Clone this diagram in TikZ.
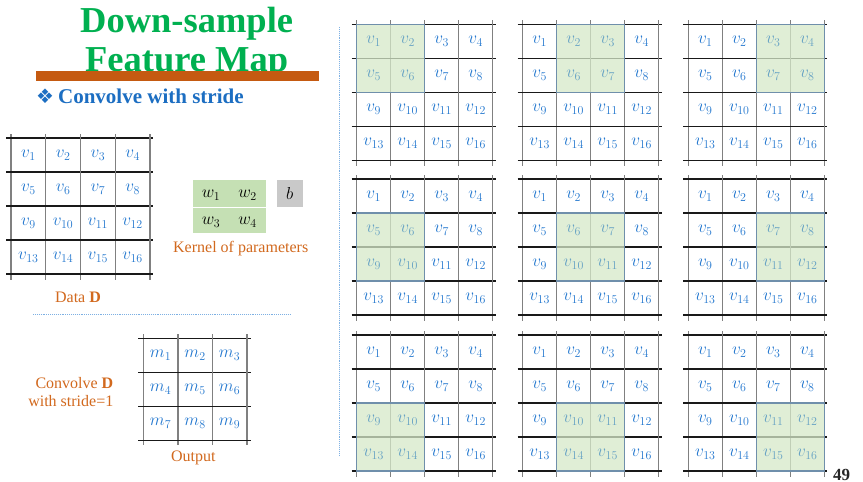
\documentclass[tikz,border=0pt]{standalone}
\usepackage{fontspec}
\setmainfont{Liberation Serif}
\newfontfamily\symfont{DejaVu Sans}
\usepackage{tikz}
\usepackage{color}

\definecolor{titlegreen}{HTML}{00B050}
\definecolor{barbrown}{HTML}{C55A11}
\definecolor{headblue}{HTML}{1C6EC2}
\definecolor{cellblue}{HTML}{2277CF}
\definecolor{fadeblue}{HTML}{66A2C4}
\definecolor{winfill}{HTML}{D6E9C9}
\definecolor{winedge}{HTML}{6F8FAB}
\definecolor{kerngreen}{HTML}{C5E0B4}
\definecolor{biasgray}{HTML}{C9C9C9}
\definecolor{labelorange}{HTML}{D2691E}
\definecolor{dotblue}{HTML}{7DB0E3}

\tikzset{
  hline/.style={line width=1.4pt,black!90},
  vline/.style={line width=1.4pt,black!50},
  cell/.style={text=cellblue,font=\fontsize{18}{18}\selectfont,inner sep=0pt},
  wincell/.style={text=fadeblue,font=\fontsize{18}{18}\selectfont,inner sep=0pt},
  window/.style={fill=winfill,fill opacity=0.75},
  winborder/.style={draw=winedge,line width=1.5pt},
  caption/.style={text=labelorange,font=\fontsize{16}{18.5}\selectfont,inner sep=0pt},
  kernel/.style={font=\fontsize{18}{18}\selectfont,inner sep=0pt},
  divider/.style={dotblue,line width=0.9pt,densely dotted},
}

% 4x4 map of v's: name, x, y, cell width, window column, window row (-9: none)
\newcommand{\vmap}[6]{%
  \begin{scope}[shift={(#2,#3)}]
    \foreach \k in {0,...,4} {
      \draw[vline] (\k*#4,-4) -- (\k*#4,142);
      \draw[hline] (-5,\k*34) -- (4*#4+3,\k*34);
    }
    \ifnum#5>-1
      \fill[window] (#5*#4,#6*34) rectangle ++(2*#4,2*34);
    \fi
    \foreach \ry in {0,...,3} {
      \foreach \cx in {0,...,3} {
        \pgfmathtruncatemacro\idx{4*\ry+\cx+1}
        \pgfmathtruncatemacro\inwin{and(and(\cx>=#5,\cx<=#5+1),and(\ry>=#6,\ry<=#6+1))}
        \ifnum\inwin=1 \def\cellstyle{wincell}\else\def\cellstyle{cell}\fi
        \node[\cellstyle] (#1-\idx) at ({(\cx+0.5)*#4},{(\ry+0.5)*34}) {$v_{\idx}$};
      }
    }
    \ifnum#5>-1
      \draw[winborder] (#5*#4,#6*34) rectangle ++(2*#4,2*34);
    \fi
  \end{scope}}

\begin{document}
\begin{tikzpicture}[x=1pt,y=-1pt]
  \useasboundingbox[fill=white] (0,0) rectangle (863,482);

  % title
  \node[anchor=base,text=titlegreen,font=\fontsize{36.5}{40}\selectfont\bfseries,inner sep=0pt] (title1) at (186.7,32) {Down-sample};
  \node[anchor=base,text=titlegreen,font=\fontsize{36.5}{40}\selectfont\bfseries,inner sep=0pt] (title2) at (186.7,71.5) {Feature Map};
  \fill[barbrown] (36,71) rectangle (319,81);
  \node[anchor=base west,text=headblue,font=\fontsize{21}{24}\selectfont\bfseries,inner sep=0pt] (head) at (36,103) {{\symfont\fontsize{20}{22}\selectfont ❖}\hspace{4pt}Convolve with stride};

  % data, kernel, output
  \vmap{D}{11}{138}{34.75}{-9}{-9}
  \node[caption,anchor=base] (datalbl) at (78,302.7) {Data \textbf{D}};

  \fill[kerngreen] (193.3,180) rectangle (265.7,233.3);
  \draw[white,line width=1.2pt] (193.3,207.3) -- (265.7,207.3);
  \node[kernel] (w1) at (211,195) {$w_1$};
  \node[kernel] (w2) at (247.5,195) {$w_2$};
  \node[kernel] (w3) at (211,222) {$w_3$};
  \node[kernel] (w4) at (247.5,222) {$w_4$};
  \node[kernel,fill=biasgray,minimum width=26,minimum height=26.7] (b) at (289.7,193.3) {$b$};
  \node[caption,anchor=base] (kernlbl) at (240.7,252) {Kernel of parameters};

  \draw[divider] (33,314) -- (290,314);

  \begin{scope}[shift={(143.3,338.3)}]
    \foreach \k in {0,...,3} {
      \draw[vline] (\k*34.5,-4) -- (\k*34.5,107);
      \draw[hline] (-5,\k*34.1) -- (3*34.5+4,\k*34.1);
    }
    \foreach \ry in {0,...,2} {
      \foreach \cx in {0,...,2} {
        \pgfmathtruncatemacro\idx{3*\ry+\cx+1}
        \node[cell] (m-\idx) at ({(\cx+0.5)*34.5},{(\ry+0.5)*34.1}) {$m_{\idx}$};
      }
    }
  \end{scope}
  \node[caption,anchor=base] (outlbl) at (193.3,461.7) {Output};
  \node[caption,anchor=east,align=right] (convlbl) at (113.5,392) {Convolve \textbf{D}\\with stride=1};

  \draw[divider] (339,27) -- (339,456);

  % the nine window positions
  \vmap{A}{356.7}{24.3}{34}{0}{0}
  \vmap{B}{522.7}{24.3}{34}{1}{0}
  \vmap{C}{688.3}{24.3}{34}{2}{0}
  \vmap{E}{356.7}{179}{34}{0}{1}
  \vmap{F}{522.7}{179}{34}{1}{1}
  \vmap{G}{688.3}{179}{34}{2}{1}
  \vmap{H}{356.7}{335}{34}{0}{2}
  \vmap{I}{522.7}{335}{34}{1}{2}
  \vmap{J}{688.3}{335}{34}{2}{2}

  \node[anchor=base,text=black!85,font=\fontsize{17}{17}\selectfont\bfseries,inner sep=0pt] (page) at (841.5,480) {49};
\end{tikzpicture}
\end{document}
